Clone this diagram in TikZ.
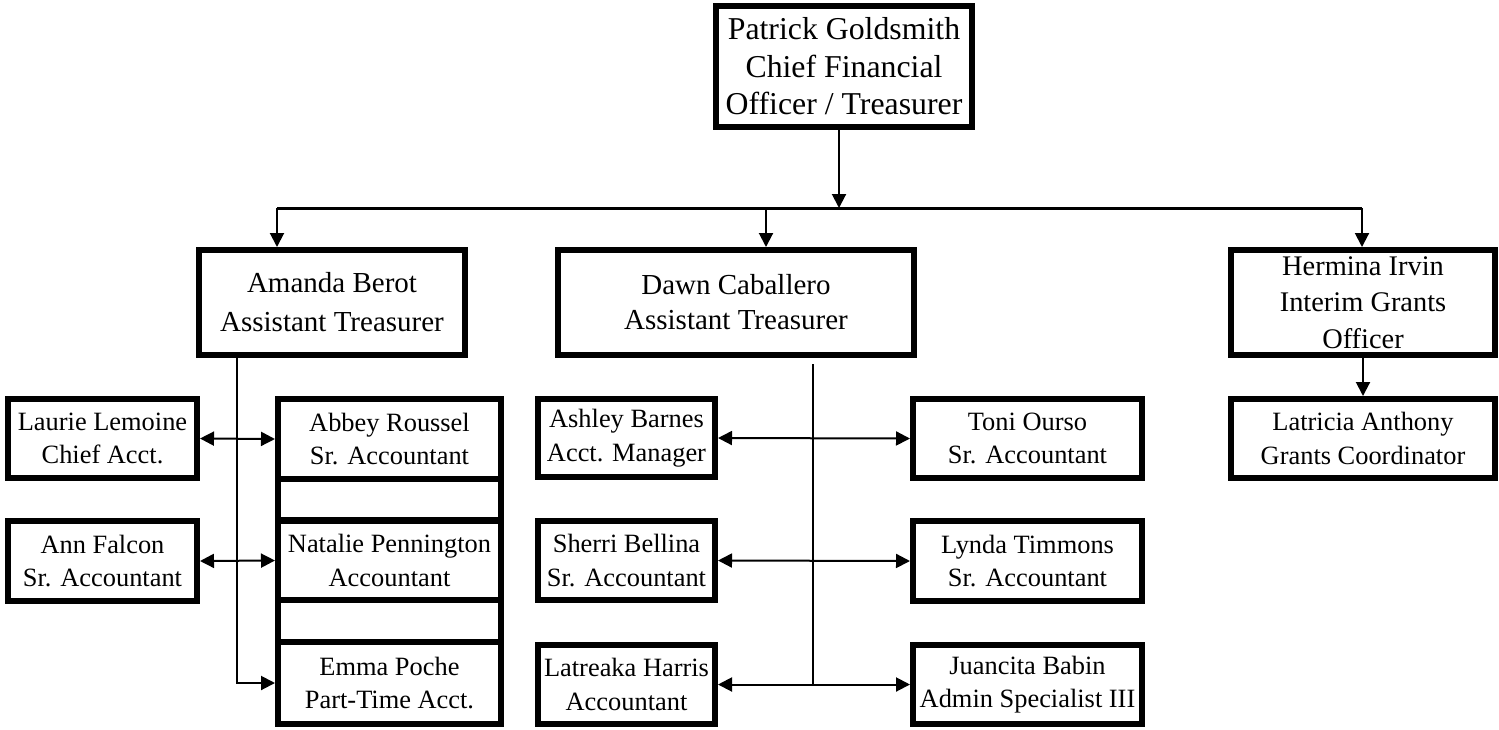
\documentclass[tikz,border=0pt]{standalone}
\usepackage{fontspec}
\setmainfont{Liberation Serif}
\usetikzlibrary{arrows.meta}
\tikzset{
  box/.style={draw, line width=2.8pt, inner sep=0pt, align=center},
  sfont/.style={font=\fontsize{13.2}{16.8}\selectfont},
  mfont/.style={font=\fontsize{14.5}{19.5}\selectfont},
  conn/.style={line width=1pt},
  arr/.style={-{Triangle[length=7pt,width=7pt]}, line width=1pt},
  darr/.style={{Triangle[length=7pt,width=7pt]}-{Triangle[length=7pt,width=7pt]}, line width=1pt},
  bar/.style={line width=1.5pt}
}
\begin{document}
\begin{tikzpicture}[x=0.5pt,y=-0.5pt]
\useasboundingbox (0,0) rectangle (1499,729);
% top
\node[box, font=\fontsize{15.9}{18.75}\selectfont, minimum width=128.2pt, minimum height=60.7pt] (pat) at (844,66.5) {Patrick Goldsmith\\Chief Financial\\Officer / Treasurer};
% second level
\node[box, mfont, minimum width=133.2pt, minimum height=52.7pt] (amanda) at (332,302.5) {Amanda Berot\\Assistant Treasurer};
\node[box, font=\fontsize{14.5}{17.5}\selectfont, minimum width=178.2pt, minimum height=52.7pt] (dawn) at (736,302.5) {Dawn Caballero\\Assistant Treasurer};
\node[box, font=\fontsize{14.2}{18.2}\selectfont, minimum width=132.2pt, minimum height=52.7pt] (hermina) at (1363,302.5) {Hermina Irvin\\Interim Grants\\Officer};
% third level, right
\node[box, sfont, minimum width=132.2pt, minimum height=39.7pt] (latricia) at (1363,438.5) {Latricia Anthony\\Grants Coordinator};
% left group
\node[box, sfont, minimum width=94.7pt, minimum height=39.7pt] (laurie) at (102.5,438.5) {Laurie Lemoine\\Chief Acct.};
\node[box, sfont, minimum width=94.7pt, minimum height=40.2pt] (ann) at (102.5,561) {Ann Falcon\\Sr. Accountant};
\node[box, sfont, minimum width=111.7pt, minimum height=40.2pt] (abbey) at (389.5,439) {Abbey Roussel\\Sr. Accountant};
\node[box, minimum width=111.7pt, minimum height=20.7pt] (blankA) at (389.5,499.5) {};
\node[box, sfont, minimum width=111.7pt, minimum height=39.7pt] (natalie) at (389.5,560.5) {Natalie Pennington\\Accountant};
\node[box, minimum width=111.7pt, minimum height=21.2pt] (blankB) at (389.5,621) {};
\node[box, sfont, minimum width=111.7pt, minimum height=41.2pt] (emma) at (389.5,683) {Emma Poche\\Part-Time Acct.};
% middle group
\node[box, sfont, minimum width=88.7pt, minimum height=39.2pt] (ashley) at (626.5,438) {Ashley Barnes\\Acct. Manager};
\node[box, sfont, minimum width=88.7pt, minimum height=39.7pt] (sherri) at (626.5,560.5) {Sherri Bellina\\Sr. Accountant};
\node[box, sfont, minimum width=88.7pt, minimum height=39.7pt] (latreaka) at (626.5,684.5) {Latreaka Harris\\Accountant};
\node[box, sfont, minimum width=114.7pt, minimum height=39.7pt] (toni) at (1027.5,438.5) {Toni Ourso\\Sr. Accountant};
\node[box, sfont, minimum width=114.7pt, minimum height=40.2pt] (lynda) at (1027.5,561) {Lynda Timmons\\Sr. Accountant};
\node[box, sfont, minimum width=114.7pt, minimum height=39.7pt] (juancita) at (1027.5,684.5) {Juancita Babin\\Admin Specialist III};
% connectors top
\coordinate (barL) at (277,208);
\coordinate (barM) at (766,208);
\coordinate (barR) at (1362,208);
\coordinate (pl) at ([xshift=-2.5pt]pat.south);
\draw[arr] (pl) -- (pl |- barL);
\draw[bar] (barL) -- (barR);
\draw[arr] (barL) -- (barL |- amanda.north);
\draw[arr] (barM) -- (barM |- dawn.north);
\draw[arr] (barR) -- (barR |- hermina.north);
% hermina to latricia
\draw[arr] (hermina.south) -- (latricia.north);
% left group connectors
\coordinate (al) at ([xshift=-47.5pt]amanda.south);
\draw[arr] (al) |- (emma.west);
\draw[darr] (laurie.east) -- (abbey.west);
\draw[darr] (ann.east) -- (natalie.west);
% middle group connectors
\coordinate (dl) at ([xshift=38.5pt,yshift=-3pt]dawn.south);
\draw[conn] (dl) -- (dl |- latreaka.east);
\draw[darr] (ashley.east) -- (toni.west);
\draw[darr] (sherri.east) -- (lynda.west);
\draw[darr] (latreaka.east) -- (juancita.west);
\end{tikzpicture}
\end{document}
